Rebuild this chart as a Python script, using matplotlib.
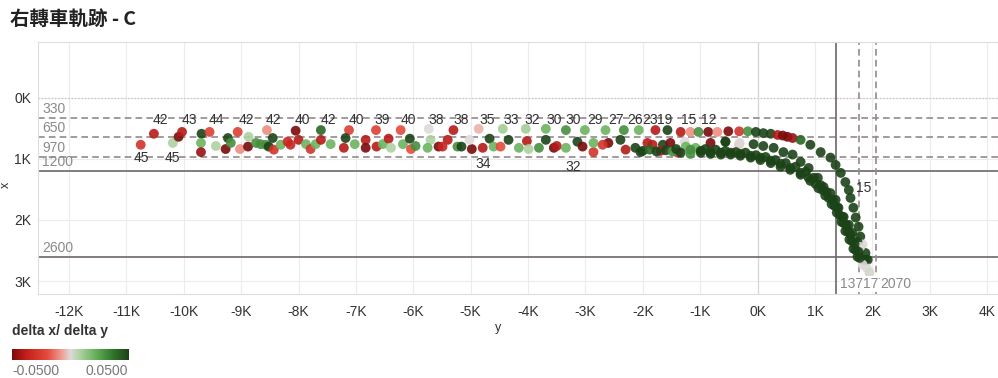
import matplotlib
matplotlib.use('Agg')
import matplotlib.pyplot as plt
import numpy as np
from matplotlib.colors import LinearSegmentedColormap, Normalize
from matplotlib.ticker import FuncFormatter, MultipleLocator

plt.rcParams['font.family'] = ['Liberation Sans', 'DejaVu Sans']

# 直線段的點 (y, x, delta x/ delta y)
line_y = [-10750, -10520, -10190, -10090, -10030, -9690, -9700, -9700, -9550, -9440,
          -9270, -9230, -9180, -9060, -9020, -8880, -8870, -8740, -8660, -8570,
          -8550, -8450, -8520, -8430, -8310, -8190,
          -8050, -8000, -8140, -7870, -7790, -7700, -7610, -7610, -7440, -7210,
          -7120, -7180, -7020, -6830, -6830, -6650, -6640, -6530, -6430, -6390,
          -6220, -6180, -6060, -6040, -5960, -5730, -5700, -5750, -5560,
          -5300, -5400, -5490, -5230, -5160, -4980, -5020, -4860, -4790, -4670,
          -4600, -4480, -4440, -4340, -4160, -4040, -4020, -3990, -3810, -3690,
          -3690, -3550, -3500, -3340, -3340, -3140, -3050, -3010, -2860, -2860,
          -2650, -2600, -2700, -2330, -2390, -2300, -2070, -2130, -2040, -1780,
          -1920, -1830, -1650, -1690, -1570, -1340, -1520, -1390, -1170, -1270,
          -1030, -860, -820, -700, -510, -560, -320, -320, -170, -30,
          -2000, -1880, -1760, -1600, -1480, -1420]
line_x = [770, 590, 740, 640, 560, 590, 740, 890, 560, 790,
          840, 660, 740, 560, 840, 800, 640, 740, 760, 770,
          530, 660, 800, 850, 770, 720,
          540, 690, 770, 760, 840, 760, 530, 690, 760, 820,
          530, 660, 760, 690, 820, 530, 800, 760, 670, 820,
          530, 760, 670, 840, 790, 510, 690, 820, 800,
          530, 690, 800, 800, 800, 840, 690, 510, 820, 670,
          800, 800, 510, 690, 820, 510, 710, 840, 820, 690,
          510, 820, 790, 530, 820, 720, 800, 530, 890, 740,
          530, 740, 770, 530, 690, 850, 530, 820, 890, 530,
          740, 770, 770, 870, 530, 560, 740, 900, 560, 720,
          560, 560, 740, 560, 550, 720, 550, 760, 550, 560,
          870, 850, 880, 860, 880, 840]
line_c = [-0.03, -0.04, 0.008, -0.05, -0.04, 0.05, 0.02, -0.045, -0.025, 0.008,
          -0.05, 0.05, 0.03, -0.025, -0.01, -0.05, 0.008, 0.03, 0.03, 0.03,
          -0.01, 0.05, 0.05, -0.03, 0.02, -0.035,
          -0.05, -0.04, -0.035, 0.02, -0.03, 0.02, 0.04, -0.04, 0.02, -0.04,
          -0.025, 0.05, 0.02, -0.04, -0.05, -0.025, -0.04, 0.02, -0.04, 0.008,
          -0.02, 0.02, 0.05, -0.02, 0.03, 0.0, 0.008, 0.02, -0.05,
          -0.04, -0.04, -0.035, 0.03, 0.05, -0.05, 0.0, -0.005, -0.04, 0.05,
          0.02, -0.02, 0.01, 0.05, 0.02, 0.01, -0.04, 0.008, 0.03, 0.05,
          0.02, -0.05, -0.04, 0.03, 0.02, 0.05, -0.05, 0.02, -0.03, 0.02,
          0.02, -0.05, -0.03, 0.03, 0.05, -0.04, 0.02, 0.05, 0.05, -0.04,
          -0.04, -0.04, 0.05, -0.04, 0.05, -0.04, -0.05, -0.03, -0.01, 0.0,
          0.03, -0.05, -0.05, -0.01, -0.05, 0.05, -0.03, -0.005, 0.03, 0.05,
          0.05, 0.04, 0.05, 0.05, 0.03, 0.05]

# 外側轉彎軌跡
outer_y = [100, 230, 350, 440, 520, 610, 750, 920, 1100, 1270, 1360, 1450, 1530, 1590,
           1620, 1670, 1710, 1760, 1790, 1830, 1880, 1920, 1900, 1950]
outer_x = [580, 590, 610, 620, 640, 660, 690, 770, 890, 980, 1100, 1230, 1380, 1510,
           1640, 1800, 1960, 2110, 2270, 2400, 2540, 2650, 2780, 2860]
outer_c = [0.05, 0.05, -0.04, -0.05, -0.05, -0.045, 0.04, 0.05, 0.05, 0.05, 0.05, 0.05,
           0.05, 0.05, 0.05, 0.05, 0.05, 0.05, 0.05, 0.0, 0.05, 0.05, 0.0, 0.002]

# 中間轉彎軌跡
mid_y = [-560, -310, -70, 100, 280, 450, 610, 750, 890, 1050, 1150, 1270, 1360, 1410,
         1500, 1590, 1650, 1740, 1790, 1880]
mid_x = [720, 740, 760, 790, 820, 890, 930, 1050, 1150, 1310, 1460, 1560, 1670, 1800,
         1950, 2080, 2210, 2360, 2440, 2650]
mid_c = [0.05, 0.0, 0.05, 0.05, 0.05, 0.05, 0.05, 0.05, 0.05, 0.05, 0.05, 0.05, 0.05,
         0.05, 0.05, 0.05, 0.05, 0.05, 0.0, 0.05]

# 內側密集軌跡帶
band1_y = [-1250, -1080, -910, -730, -560, -380, -210, -30, 140, 310, 490, 660, 840, 980,
           1100, 1200, 1310, 1390, 1480, 1550, 1620, 1690, 1760, 1830]
band1_x = [800, 820, 840, 850, 870, 890, 900, 940, 970, 1020, 1070, 1130, 1210, 1310,
           1430, 1540, 1670, 1800, 1950, 2090, 2240, 2390, 2520, 2650]
band1_c = [0.02, 0.02, 0.05, 0.05, 0.05, 0.05, 0.05, 0.05, 0.05, 0.05, 0.05, 0.05, 0.05,
           0.05, 0.05, 0.05, 0.05, 0.05, 0.05, 0.05, 0.05, 0.05, 0.05, 0.05]

band2_y = [-1340, -1170, -990, -820, -640, -470, -300, -120, 50, 230, 400, 570, 750, 920,
           1060, 1180, 1290, 1380, 1460, 1530, 1600, 1670, 1740, 1830]
band2_x = [900, 920, 900, 920, 930, 930, 950, 980, 1020, 1070, 1130, 1180, 1260, 1360,
           1480, 1600, 1740, 1880, 2030, 2180, 2320, 2470, 2600, 2730]
band2_c = [0.05, 0.03, 0.05, 0.05, 0.05, 0.05, 0.05, 0.05, 0.05, 0.05, 0.05, 0.05, 0.05,
           0.05, 0.05, 0.05, 0.05, 0.05, 0.05, 0.05, 0.05, 0.05, 0.05, 0.0]

band3_y = [-1170, -990, -820, -640, -470, -300, -120, 50, 230, 400, 570, 750, 890, 1010,
           1130, 1240, 1340, 1430, 1500, 1570, 1640, 1710, 1780]
band3_x = [850, 870, 890, 900, 900, 920, 950, 980, 1030, 1080, 1150, 1230, 1310, 1410,
           1510, 1640, 1770, 1920, 2050, 2190, 2340, 2490, 2620]
band3_c = [0.03, 0.05, 0.05, 0.05, 0.05, 0.05, 0.05, 0.05, 0.05, 0.05, 0.05, 0.05, 0.05,
           0.05, 0.05, 0.05, 0.05, 0.05, 0.05, 0.05, 0.05, 0.05, 0.05]

# 速度標籤
top_lab_y = [-10400, -9910, -9430, -8900, -8430, -7940, -7470, -7000, -6550, -6080, -5610,
             -5170, -4720, -4300, -3920, -3550, -3210, -2840, -2460, -2140, -1880, -1620,
             -1200, -850]
top_lab_txt = ['42', '43', '44', '42', '42', '40', '42', '40', '39', '40', '38', '38', '35',
               '33', '32', '30', '30', '29', '27', '26', '23', '19', '15', '12']
top_lab_x = 360
low_lab_y = [-10730, -10190, -4790, -3220, 1850]
low_lab_x = [980, 980, 1080, 1130, 1470]
low_lab_txt = ['45', '45', '34', '32', '15']

# 參考線
ref_h = [330, 650, 970, 1200, 2600]
ref_h_dashed = [True, True, True, False, False]
ref_v = [1370, 1770, 2070]
ref_v_dashed = [False, True, True]

all_y = line_y + outer_y + mid_y + band1_y + band2_y + band3_y
all_x = line_x + outer_x + mid_x + band1_x + band2_x + band3_x
all_c = line_c + outer_c + mid_c + band1_c + band2_c + band3_c

cmap = LinearSegmentedColormap.from_list('rg', [
    (0.0, '#7a0a0a'), (0.12, '#c41f1b'), (0.3, '#e44b3c'), (0.43, '#f0a197'),
    (0.5, '#dedada'), (0.57, '#b3d4a6'), (0.72, '#62b058'), (0.87, '#2f7329'),
    (1.0, '#1c4318')])
norm = Normalize(-0.05, 0.05)

fig = plt.figure(figsize=(9.98, 3.78), dpi=100)
ax = fig.add_axes([38 / 998, 1 - 294 / 378, 960 / 998, 252 / 378])

ax.scatter(all_y, all_x, c=all_c, cmap=cmap, norm=norm, s=50, alpha=0.9,
           edgecolors='none', zorder=3)

ax.set_xlim(-12540, 4190)
ax.set_ylim(3210, -910)
ax.xaxis.set_major_locator(MultipleLocator(1000))
ax.yaxis.set_major_locator(MultipleLocator(1000))
fmt = FuncFormatter(lambda v, p: '%dK' % round(v / 1000))
ax.xaxis.set_major_formatter(fmt)
ax.yaxis.set_major_formatter(fmt)
ax.tick_params(length=0, labelsize=10, labelcolor='#333333')
ax.tick_params(axis='x', pad=8)
ax.tick_params(axis='y', pad=5)
ax.grid(True, color='#ececec', lw=0.8, zorder=0)
ax.set_axisbelow(True)
for sp in ax.spines.values():
    sp.set_color('#dddddd')
    sp.set_linewidth(0.8)
ax.axhline(0, color='#c9bfbf', lw=0.9, ls=':', zorder=1)
ax.axvline(0, color='#d6d6d6', lw=0.9, zorder=1)

for v, d in zip(ref_h, ref_h_dashed):
    ax.axhline(v, color='#948a8a' if d else '#6e6666', lw=1.2,
               ls=(0, (4, 2.5)) if d else '-', zorder=2)
    ax.annotate(str(v), xy=(0, v), xycoords=('axes fraction', 'data'),
                xytext=(3, 1.5), textcoords='offset points', ha='left', va='bottom',
                fontsize=10, color='#8a8a8a', zorder=4)
for v, d in zip(ref_v, ref_v_dashed):
    ax.axvline(v, color='#948a8a' if d else '#6e6666', lw=1.2,
               ls=(0, (4, 2.5)) if d else '-', zorder=2)
    ax.annotate(str(v), xy=(v, 0.04), xycoords=('data', 'axes fraction'),
                xytext=(3, 0), textcoords='offset points', ha='left', va='center',
                fontsize=10, color='#8a8a8a', zorder=4,
                bbox=dict(boxstyle='square,pad=0.05', fc='white', ec='none'))

for y, t in zip(top_lab_y, top_lab_txt):
    ax.text(y, top_lab_x, t, ha='center', va='center', fontsize=10, color='#333333', zorder=4)
for y, x, t in zip(low_lab_y, low_lab_x, low_lab_txt):
    ax.text(y, x, t, ha='center', va='center', fontsize=10, color='#333333', zorder=4)

fig.text(10 / 998, 1 - 19 / 378, '右轉車軌跡 - C', fontsize=14, fontweight='bold',
         family=['Noto Sans CJK TC', 'DejaVu Sans'], color='#222222', va='center', ha='left')
fig.text(498 / 998, 1 - 328 / 378, 'y', fontsize=9, color='#333333', ha='center', va='center')
fig.text(6 / 998, 1 - 185 / 378, 'x', fontsize=9, color='#333333', ha='center', va='center',
         rotation=90)

# 圖例
fig.text(12 / 998, 1 - 331 / 378, 'delta x/ delta y', fontsize=10, fontweight='bold',
         color='#333333', ha='left', va='center')
lax = fig.add_axes([12 / 998, 1 - 360 / 378, 116 / 998, 11 / 378])
lax.imshow(np.linspace(-0.05, 0.05, 256)[None, :], cmap=cmap, norm=norm, aspect='auto')
lax.set_xticks([])
lax.set_yticks([])
for sp in lax.spines.values():
    sp.set_visible(False)
fig.text(12 / 998, 1 - 371 / 378, '-0.0500', fontsize=10, color='#777777', ha='left', va='center')
fig.text(128 / 998, 1 - 371 / 378, '0.0500', fontsize=10, color='#777777', ha='right', va='center')

fig.savefig('out.png', dpi=100)
